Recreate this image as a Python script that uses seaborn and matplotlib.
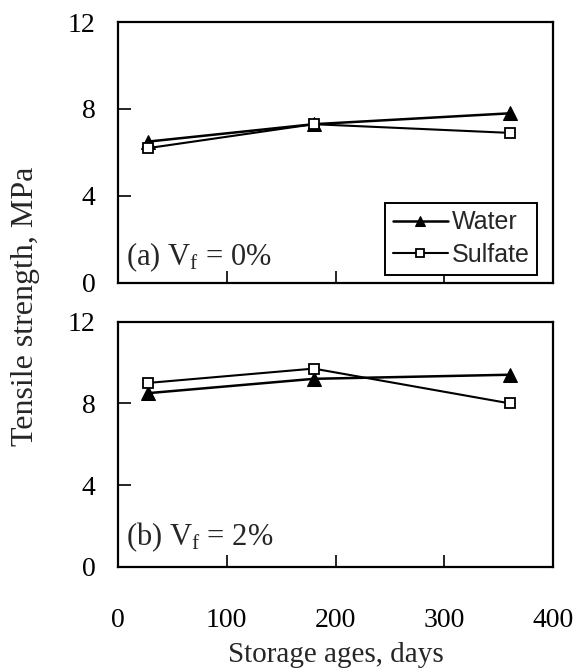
import matplotlib
matplotlib.use("Agg")
import matplotlib.pyplot as plt
import seaborn as sns
import pandas as pd

# Storage ages (days) and tensile strengths (MPa)
ages = [28, 180, 360]
water_vf0 = [6.5, 7.3, 7.8]
sulfate_vf0 = [6.2, 7.3, 6.9]
water_vf2 = [8.5, 9.2, 9.4]
sulfate_vf2 = [9.0, 9.7, 8.0]

series_names = ["Water", "Sulfate"]
panel_labels = [r"(a) V$_\mathregular{f}$ = 0%", r"(b) V$_\mathregular{f}$ = 2%"]
y_ticks = [0, 4, 8, 12]
x_ticks = [0, 100, 200, 300, 400]

sns.set_theme(style="ticks")
plt.rcParams["font.family"] = ["Liberation Serif", "DejaVu Serif"]
plt.rcParams["mathtext.fontset"] = "custom"
plt.rcParams["mathtext.rm"] = "Liberation Serif"
plt.rcParams["mathtext.it"] = "Liberation Serif:italic"

fig = plt.figure(figsize=(5.84, 6.70), dpi=100)
ax_top = fig.add_axes([0.202, 0.578, 0.745, 0.389])
ax_bot = fig.add_axes([0.202, 0.154, 0.745, 0.366])

panels = [
    (ax_top, water_vf0, sulfate_vf0, panel_labels[0], 0.068),
    (ax_bot, water_vf2, sulfate_vf2, panel_labels[1], 0.088),
]

for ax, water, sulfate, label, label_y in panels:
    df = pd.DataFrame({
        "age": ages * 2,
        "strength": water + sulfate,
        "medium": [series_names[0]] * 3 + [series_names[1]] * 3,
    })
    sns.lineplot(data=df[df.medium == series_names[0]], x="age", y="strength",
                 ax=ax, color="black", lw=1.8, marker="^", markersize=10,
                 markerfacecolor="black", markeredgecolor="black",
                 label=series_names[0], legend=False)
    sns.lineplot(data=df[df.medium == series_names[1]], x="age", y="strength",
                 ax=ax, color="black", lw=1.5, marker="s", markersize=7,
                 markerfacecolor="white", markeredgecolor="black",
                 markeredgewidth=1.3, label=series_names[1], legend=False)
    ax.set_xlim(0, 400)
    ax.set_ylim(0, 12)
    ax.set_xticks(x_ticks)
    ax.set_yticks(y_ticks)
    ax.tick_params(direction="in", length=9, width=1.2, labelsize=20,
                   colors="black")
    ax.tick_params(axis="y", pad=16)
    ax.tick_params(axis="x", pad=30)
    for s in ax.spines.values():
        s.set_linewidth(1.6)
        s.set_color("black")
    ax.set_xlabel("")
    ax.set_ylabel("")
    ax.text(0.018, label_y, label, transform=ax.transAxes, fontsize=22,
            ha="left", va="baseline")

ax_top.tick_params(axis="x", labelbottom=False)
ax_bot.set_xlabel("Storage ages, days", fontsize=21)
ax_bot.xaxis.set_label_coords(0.5, -0.305)

leg = ax_top.legend(loc="lower right", bbox_to_anchor=(0.963, 0.031),
                    borderaxespad=0.0,
                    prop={"family": "Liberation Sans", "size": 18},
                    frameon=True, fancybox=False, edgecolor="black",
                    framealpha=1.0, handlelength=2.2, handletextpad=0.15,
                    borderpad=0.3, labelspacing=0.35, markerscale=0.75)
leg.get_frame().set_linewidth(1.4)

fig.text(0.043, 0.543, "Tensile strength, MPa", rotation=90, fontsize=23,
         ha="center", va="center")

fig.savefig("out.png", dpi=100, facecolor="white")
